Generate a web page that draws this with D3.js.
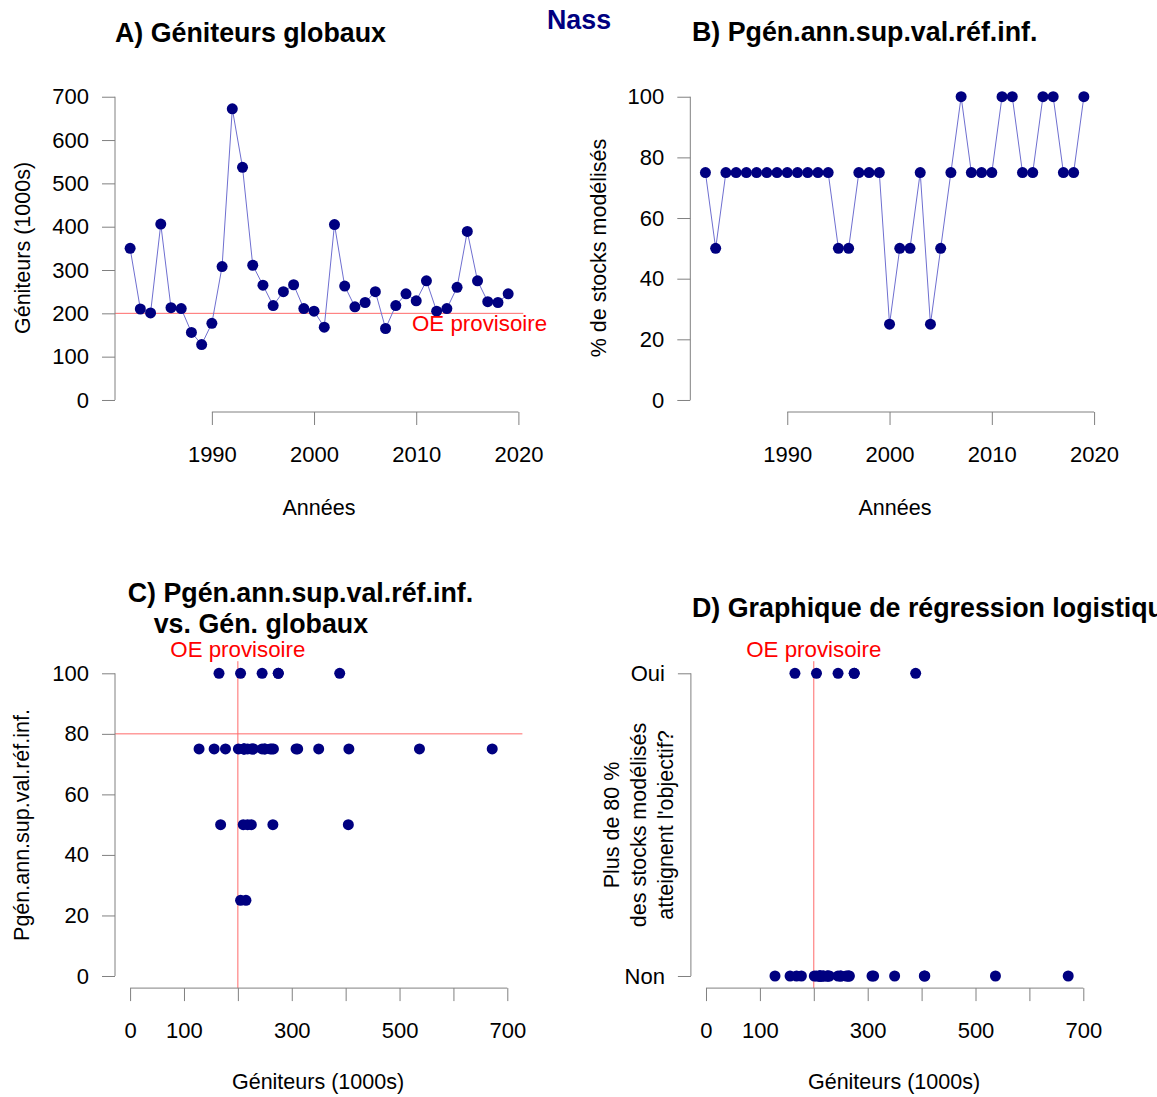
<!DOCTYPE html>
<html><head><meta charset="utf-8">
<script src="https://cdn.jsdelivr.net/npm/d3@7"></script>
<style>body{margin:0;background:#fff} text{font-family:"Liberation Sans",Arial,sans-serif}</style>
</head><body><svg id="c" width="1157" height="1097"></svg>
<script>
// ---- data ----
const years=[1982,1983,1984,1985,1986,1987,1988,1989,1990,1991,1992,1993,1994,1995,1996,1997,1998,1999,2000,2001,2002,2003,2004,2005,2006,2007,2008,2009,2010,2011,2012,2013,2014,2015,2016,2017,2018,2019];
const geniteurs=[350,210,201,406,213,211,156,128,177,308,672,537,311,265,218,250,266,211,205,168,405,263,215,225,250,165,218,245,229,275,205,211,260,389,275,227,225,245];
const pctStocks=[75,50,75,75,75,75,75,75,75,75,75,75,75,50,50,75,75,75,25,50,50,75,25,50,75,100,75,75,75,100,100,75,75,100,100,75,75,100];
const oeProvisoire=200;
const seuilPct=80;
const yearTicks=[1990,2000,2010,2020];
const genTicksY=[0,100,200,300,400,500,600,700];
const pctTicks=[0,20,40,60,80,100];
const genTicksX=[0,100,200,300,400,500,600,700];
const genTickLabelsX=["0","100","","300","","500","","700"];
const binTicks=[0,1];
const binLabels=["Non","Oui"];
const outcome=pctStocks.map(v=>v>=seuilPct?1:0);

const svg=d3.select("#c");
const AX="#808080", NAVY="#000080", LINE="#6f6fd0", RED="#ff6a6a", FS=21.5, TS=26.8;
function ext(a,b){const d=(b-a)*0.04;return [a-d,b+d];}

function leftAxis(scale,x,ticks,labels){
  const g=svg.append("g").attr("transform",`translate(${x},0)`)
    .call(d3.axisLeft(scale).tickValues(ticks).tickSize(13).tickPadding(13)
      .tickFormat((d,i)=>labels?labels[i]:d));
  g.select(".domain").remove();
  g.selectAll("line").attr("stroke",AX);
  g.selectAll("text").attr("fill","#000").style("font-size","22px").style("font-family",'"Liberation Sans",Arial,sans-serif');
  g.append("line").attr("x1",0).attr("x2",0).attr("y1",scale(ticks[0])).attr("y2",scale(ticks[ticks.length-1])).attr("stroke",AX);
}
function bottomAxis(scale,y,ticks,labels){
  const g=svg.append("g").attr("transform",`translate(0,${y})`)
    .call(d3.axisBottom(scale).tickValues(ticks).tickSize(13).tickPadding(21)
      .tickFormat((d,i)=>labels?labels[i]:d));
  g.select(".domain").remove();
  g.selectAll("line").attr("stroke",AX);
  g.selectAll("text").attr("fill","#000").style("font-size","22px").style("font-family",'"Liberation Sans",Arial,sans-serif');
  g.append("line").attr("y1",0).attr("y2",0).attr("x1",scale(ticks[0])).attr("x2",scale(ticks[ticks.length-1])).attr("stroke",AX);
}
function txt(x,y,s,opt={}){
  const t=svg.append("text").attr("x",x).attr("y",y).text(s)
    .style("font-size",(opt.size||FS)+"px").attr("fill",opt.fill||"#000")
    .attr("text-anchor",opt.anchor||"start");
  if(opt.bold) t.style("font-weight","bold");
  return t;
}
function vtxt(x,y,s){
  svg.append("text").attr("transform",`translate(${x},${y}) rotate(-90)`)
    .attr("text-anchor","middle").attr("dy","0.35em").style("font-size",FS+"px").text(s);
}
function points(xs,ys,sx,sy){
  svg.append("g").selectAll("circle").data(xs).join("circle")
    .attr("cx",(d,i)=>sx(d)).attr("cy",(d,i)=>sy(ys[i])).attr("r",5.5).attr("fill",NAVY);
}

// Main title
txt(579,28.5,"Nass",{size:TS,bold:true,fill:NAVY,anchor:"middle"});

// ---- Panel A ----
{
  const x=d3.scaleLinear().domain(ext(1982,2019)).range([115,523.3]);
  const y=d3.scaleLinear().domain(ext(0,700)).range([412.1,84.6]);
  svg.append("line").attr("x1",115).attr("x2",523.3).attr("y1",y(oeProvisoire)).attr("y2",y(oeProvisoire)).attr("stroke",RED);
  svg.append("path").datum(years).attr("fill","none").attr("stroke",LINE).attr("stroke-width",1)
    .attr("d",d3.line().x(d=>x(d)).y((d,i)=>y(geniteurs[i])));
  points(years,geniteurs,x,y);
  leftAxis(y,115,genTicksY);
  bottomAxis(x,412,yearTicks);
  txt(412,331,"OE provisoire",{fill:"#ff0000",size:22.3});
  txt(115,41.5,"A) Géniteurs globaux",{size:TS,bold:true});
  txt(319,515,"Années",{anchor:"middle"});
  vtxt(22,248,"Géniteurs (1000s)");
}
// ---- Panel B ----
{
  const x=d3.scaleLinear().domain(ext(1982,2019)).range([690.3,1099]);
  const y=d3.scaleLinear().domain(ext(0,100)).range([412.1,84.6]);
  svg.append("path").datum(years).attr("fill","none").attr("stroke",LINE).attr("stroke-width",1)
    .attr("d",d3.line().x(d=>x(d)).y((d,i)=>y(pctStocks[i])));
  points(years,pctStocks,x,y);
  leftAxis(y,690.3,pctTicks);
  bottomAxis(x,412,yearTicks);
  txt(692,40.7,"B) Pgén.ann.sup.val.réf.inf.",{size:TS,bold:true});
  txt(895,515,"Années",{anchor:"middle"});
  vtxt(598,248,"% de stocks modélisés");
}
// ---- Panel C ----
{
  const x=d3.scaleLinear().domain(ext(0,700)).range([115,522.4]);
  const y=d3.scaleLinear().domain(ext(0,100)).range([988.1,661.2]);
  svg.append("line").attr("x1",115).attr("x2",522.4).attr("y1",y(seuilPct)).attr("y2",y(seuilPct)).attr("stroke",RED);
  svg.append("line").attr("x1",x(oeProvisoire)).attr("x2",x(oeProvisoire)).attr("y1",661.2).attr("y2",988.1).attr("stroke",RED);
  points(geniteurs,pctStocks,x,y);
  leftAxis(y,115,pctTicks);
  bottomAxis(x,988.1,genTicksX,genTickLabelsX);
  txt(x(oeProvisoire),657,"OE provisoire",{fill:"#ff0000",size:22.3,anchor:"middle"});
  txt(127.7,601.5,"C) Pgén.ann.sup.val.réf.inf.",{size:TS,bold:true});
  txt(153.7,633,"vs. Gén. globaux",{size:TS,bold:true});
  txt(318,1089,"Géniteurs (1000s)",{anchor:"middle"});
  vtxt(21,825,"Pgén.ann.sup.val.réf.inf.");
}
// ---- Panel D ----
{
  const x=d3.scaleLinear().domain(ext(0,700)).range([690.9,1098.4]);
  const y=d3.scaleLinear().domain(ext(0,1)).range([988.1,661.2]);
  svg.append("line").attr("x1",x(oeProvisoire)).attr("x2",x(oeProvisoire)).attr("y1",661.2).attr("y2",988.1).attr("stroke",RED);
  points(geniteurs,outcome,x,y);
  leftAxis(y,690.9,binTicks,binLabels);
  bottomAxis(x,988.1,genTicksX,genTickLabelsX);
  txt(x(oeProvisoire),657,"OE provisoire",{fill:"#ff0000",size:22.3,anchor:"middle"});
  txt(692,616.5,"D) Graphique de régression logistique",{size:TS,bold:true});
  txt(894,1089,"Géniteurs (1000s)",{anchor:"middle"});
  vtxt(611,825,"Plus de 80 %");
  vtxt(638,825,"des stocks modélisés");
  vtxt(665,825,"atteignent l'objectif?");
}
</script></body></html>
